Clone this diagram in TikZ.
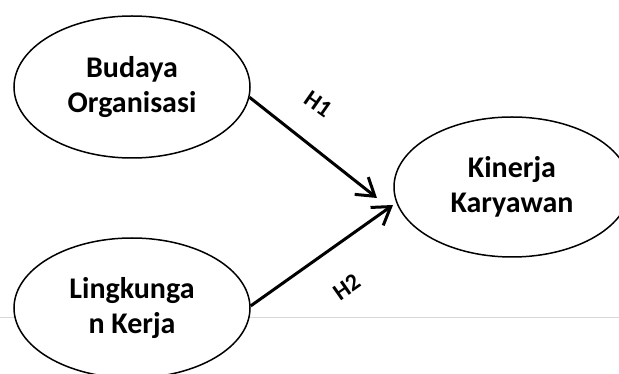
\documentclass[tikz,border=0pt]{standalone}
\usepackage{fontspec}
\setmainfont{Carlito}
\usetikzlibrary{shapes.geometric,arrows.meta}
\begin{document}
\begin{tikzpicture}[x=1pt,y=-1pt,
  construct/.style={ellipse,draw=black,line width=1.5pt,fill=white,inner sep=0pt,
    minimum width=236pt,minimum height=142pt,align=center,
    font=\bfseries\fontsize{30}{35}\selectfont},
  path/.style={line width=3pt,-{Straight Barb[length=17pt,width=22pt,line width=3pt]}},
  hyp/.style={font=\bfseries\fontsize{24}{28}\selectfont}]
\useasboundingbox (0,0) rectangle (619,374);
% thin rule behind the lower construct
\draw[black!15,line width=1pt] (0,318) -- (619,318);
% latent constructs
\node[construct] (bo) at (132,87) {Budaya\\Organisasi};
\node[construct,minimum height=140pt] (lk) at (132,308) {Lingkunga\\n Kerja};
\node[construct,minimum height=140pt] (kk) at (512,187) {Kinerja\\Karyawan};
% arrow ends short of the outcome construct
\coordinate (t1) at (377,198);
\coordinate (t2) at (393,205);
\draw[path] (bo.-5) -- (t1);
\draw[path] (lk.1) -- (t2);
% hypothesis labels
\node[hyp,rotate=-35] (h1) at (318,104) {H1};
\node[hyp,rotate=35] (h2) at (347,287) {H2};
\end{tikzpicture}
\end{document}
